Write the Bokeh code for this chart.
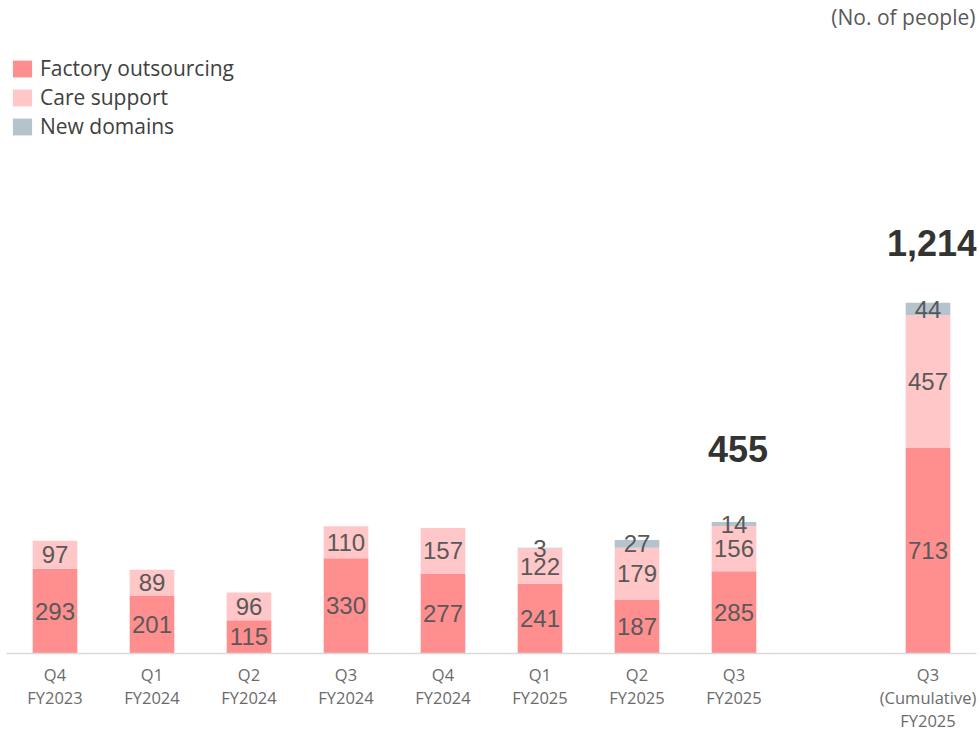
from bokeh.plotting import figure
from bokeh.models import ColumnDataSource, FixedTicker, Legend, LegendItem, Label, Range1d
from bokeh.core.properties import value
from bokeh.embed import file_html
from bokeh.resources import INLINE

categories = ["Q4\nFY2023", "Q1\nFY2024", "Q2\nFY2024", "Q3\nFY2024", "Q4\nFY2024",
              "Q1\nFY2025", "Q2\nFY2025", "Q3\nFY2025", "Q3\n(Cumulative)\nFY2025"]
factory = [293, 201, 115, 330, 277, 241, 187, 285, 713]
care = [97, 89, 96, 110, 157, 122, 179, 156, 457]
new_domains = [0, 0, 0, 0, 0, 3, 27, 14, 44]
series_names = ["Factory outsourcing", "Care support", "New domains"]
colors = ["#FF8F8F", "#FFC7C7", "#B5C3CD"]
total_shown = [False, False, False, False, False, False, False, True, True]

n = len(categories)
xs = [i if i < n - 1 else i + 1 for i in range(n)]
totals = [a + b + c for a, b, c in zip(factory, care, new_domains)]

PX_PER_UNIT = 0.289
FRAME_H = 653
y_end = FRAME_H / PX_PER_UNIT

p = figure(frame_width=970, frame_height=FRAME_H, output_backend="svg", toolbar_location=None,
           x_range=Range1d(-0.5, 9.5), y_range=Range1d(0, y_end),
           y_axis_location=None, min_border_left=6, min_border_right=4,
           min_border_top=0, min_border_bottom=74)
p.outline_line_color = None
p.xgrid.grid_line_color = None
p.ygrid.grid_line_color = None
p.background_fill_color = "white"
p.border_fill_color = "white"

src = ColumnDataSource(dict(x=xs, factory=factory, care=care, new=new_domains))
rs = p.vbar_stack(["factory", "care", "new"], x="x", width=0.46, source=src,
                  color=colors, line_color=None)

# segment labels
lx, ly, lt = [], [], []
for i in range(n):
    base = 0
    for vals in (factory, care, new_domains):
        v = vals[i]
        if v > 0:
            lx.append(xs[i]); ly.append(base + v / 2); lt.append(str(v))
        base += v
p.text(x=lx, y=ly, text=lt, text_align="center", text_baseline="middle",
       text_font=value("Liberation Sans"), text_font_size="24px", text_color="#595959")

# total labels
tx = [xs[i] for i in range(n) if total_shown[i]]
ty = [totals[i] for i in range(n) if total_shown[i]]
tt = [f"{totals[i]:,}" for i in range(n) if total_shown[i]]
toff = [-73 if t < 1000 else -60 for t in ty]
p.text(x=tx, y=ty, text=tt, text_align="center", text_baseline="middle",
       x_offset=4, y_offset=toff,
       text_font=value("Liberation Sans"), text_font_style="bold",
       text_font_size="36px", text_color="#333333")

# axis
ax = p.xaxis[0]
ax.ticker = FixedTicker(ticks=xs)
ax.major_label_overrides = {x: c for x, c in zip(xs, categories)}
ax.major_tick_line_color = None
ax.minor_tick_line_color = None
ax.axis_line_color = "#D9D9D9"
ax.axis_line_width = 1.5
ax.major_label_text_font = "Open Sans"
ax.major_label_text_font_size = "16.5px"
ax.major_label_text_color = "#6b6b6b"
ax.major_label_text_line_height = 1.0
ax.major_label_standoff = 3

legend = Legend(items=[LegendItem(label=nm, renderers=[r]) for nm, r in zip(series_names, rs)],
                location=(4, 513), orientation="vertical",
                glyph_width=24, glyph_height=21, label_standoff=6, spacing=1,
                label_height=20, padding=0, margin=0,
                label_text_font="Open Sans", label_text_font_size="21px",
                label_text_color="#404040", border_line_color=None,
                background_fill_alpha=0)
p.add_layout(legend)

p.add_layout(Label(x=9.5, y=y_end, x_offset=-1, y_offset=-16, text="(No. of people)",
                   text_align="right", text_baseline="middle", text_font="Open Sans",
                   text_font_size="21px", text_color="#595959"))

open("out.html", "w").write(file_html(p, INLINE))
